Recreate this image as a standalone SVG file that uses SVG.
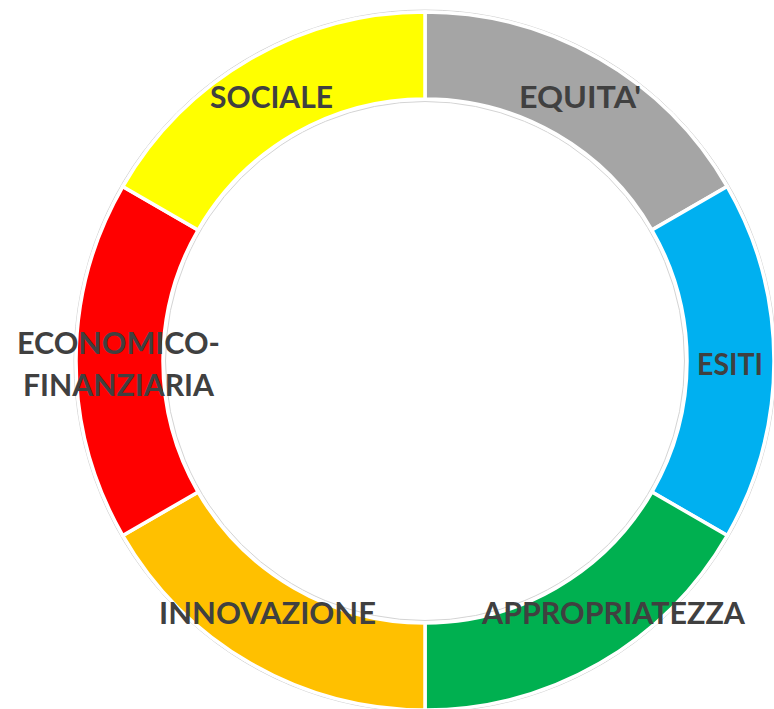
<svg xmlns="http://www.w3.org/2000/svg" width="774" height="709" viewBox="0 0 774 709">
<style>
.seg{stroke:#ffffff;stroke-width:3.5;stroke-linejoin:miter}
.lbl{font-family:Lato,"Open Sans","Liberation Sans",sans-serif;font-weight:bold;font-size:30px;fill:#404040}
.rim{fill:none;stroke:#d4d4d4;stroke-width:1}
</style>
<rect width="774" height="709" fill="#ffffff"/>
<g id="rims">
<circle class="rim" cx="425" cy="361" r="351"/>
<circle class="rim" cx="425" cy="361" r="259.5"/>
</g>
<g id="equita">
<path class="seg" fill="#A5A5A5" d="M425,12 A349,349 0 0 1 727.24,186.5 L651.9,230 A262,262 0 0 0 425,99 Z"/>
<text class="lbl" x="519" y="108" textLength="122" lengthAdjust="spacingAndGlyphs">EQUITA'</text>
</g>
<g id="esiti">
<path class="seg" fill="#00B0F0" d="M727.24,186.5 A349,349 0 0 1 727.24,535.5 L651.9,492 A262,262 0 0 0 651.9,230 Z"/>
<text class="lbl" x="697" y="375" textLength="66" lengthAdjust="spacingAndGlyphs">ESITI</text>
</g>
<g id="appropriatezza">
<path class="seg" fill="#00B050" d="M727.24,535.5 A349,349 0 0 1 425,710 L425,623 A262,262 0 0 0 651.9,492 Z"/>
<text class="lbl" x="482" y="624" textLength="263" lengthAdjust="spacingAndGlyphs">APPROPRIATEZZA</text>
</g>
<g id="innovazione">
<path class="seg" fill="#FFC000" d="M425,710 A349,349 0 0 1 122.76,535.5 L198.1,492 A262,262 0 0 0 425,623 Z"/>
<text class="lbl" x="159" y="624" textLength="217" lengthAdjust="spacingAndGlyphs">INNOVAZIONE</text>
</g>
<g id="economico">
<path class="seg" fill="#FF0000" d="M122.76,535.5 A349,349 0 0 1 122.76,186.5 L198.1,230 A262,262 0 0 0 198.1,492 Z"/>
<text class="lbl" x="17" y="354" textLength="203" lengthAdjust="spacingAndGlyphs">ECONOMICO-</text>
<text class="lbl" x="23" y="396" textLength="191" lengthAdjust="spacingAndGlyphs">FINANZIARIA</text>
</g>
<g id="sociale">
<path class="seg" fill="#FFFF00" d="M122.76,186.5 A349,349 0 0 1 425,12 L425,99 A262,262 0 0 0 198.1,230 Z"/>
<text class="lbl" x="210" y="108" textLength="123" lengthAdjust="spacingAndGlyphs">SOCIALE</text>
</g>
<g id="connectors"/>
</svg>
